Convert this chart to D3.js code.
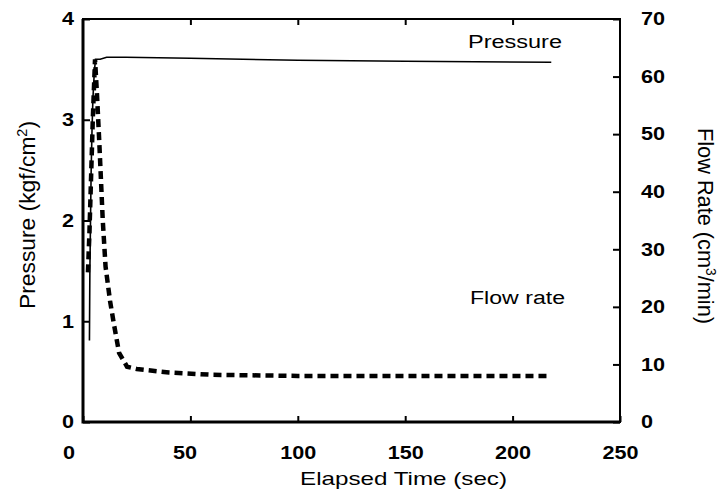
<!DOCTYPE html>
<html>
<head>
<meta charset="utf-8">
<script src="https://cdn.jsdelivr.net/npm/d3@7"></script>
<style>
  body { margin: 0; background: #fff; }
  svg text { font-family: "Liberation Sans", Arial, sans-serif; fill: #000; }
</style>
</head>
<body>
<div id="chart"></div>
<script>
// Pressure (kgf/cm2) vs elapsed time (sec)
const pressureTime = [3.0, 3.2, 3.5, 3.8, 4.2, 4.6, 5.2, 5.8, 8, 11, 20, 50, 100, 150, 218];
const pressureVal  = [0.81, 1.5, 2.0, 2.5, 2.9, 3.2, 3.45, 3.6, 3.6, 3.62, 3.62, 3.61, 3.59, 3.58, 3.57];

// Flow rate (cm3/min) vs elapsed time (sec)
const flowTime = [2.3, 3.0, 3.8, 4.6, 5.6, 6.5, 7.6, 9.2, 10.5, 12.6, 14.4, 16.8, 20.5, 25, 40, 60, 100, 150, 218];
const flowVal  = [26, 33, 43, 53, 63, 57, 48.5, 35, 27, 21, 17, 12, 9.6, 9.2, 8.6, 8.2, 8.0, 8.0, 8.0];

const xTicks = [0, 50, 100, 150, 200, 250];
const pTicks = [0, 1, 2, 3, 4];
const fTicks = [0, 10, 20, 30, 40, 50, 60, 70];

const W = 722, H = 494;
const margin = { top: 19, right: 102, bottom: 72, left: 83 };
const w = W - margin.left - margin.right;
const h = H - margin.top - margin.bottom;

const svg = d3.select('#chart').append('svg')
  .attr('width', W).attr('height', H);
const g = svg.append('g').attr('transform', `translate(${margin.left},${margin.top})`);

const x = d3.scaleLinear().domain([0, 250]).range([0, w]);
const yP = d3.scaleLinear().domain([0, 4]).range([h, 0]);
const yF = d3.scaleLinear().domain([0, 70]).range([h, 0]);

// the scanned figure is a bit stretched sideways, so widen the tick text
const styleAxis = sel => {
  sel.select('.domain').remove();
  sel.selectAll('line').attr('stroke', '#000').attr('stroke-width', 2);
  sel.selectAll('text')
    .attr('font-size', 18).attr('font-weight', 'bold')
    .attr('transform', 'scale(1.2,1)');
};

// Bottom axis (ticks pointing inward)
g.append('g')
  .attr('transform', `translate(0,${h})`)
  .call(d3.axisBottom(x).tickValues(xTicks).tickSizeInner(-6).tickSizeOuter(0).tickPadding(24))
  .call(styleAxis)
  .call(sel => sel.selectAll('.tick').filter(d => d === 0).select('text').attr('dx', -12))
  .call(sel => sel.selectAll('.tick').filter(d => d === 50).select('text').attr('dx', -5));

// Top axis ticks
g.append('g')
  .call(d3.axisTop(x).tickValues(xTicks.slice(1, -1)).tickSizeInner(-6).tickSizeOuter(0).tickFormat(''))
  .call(styleAxis);

// Left axis
g.append('g')
  .call(d3.axisLeft(yP).tickValues(pTicks).tickFormat(d3.format('d'))
    .tickSizeInner(-7).tickSizeOuter(0).tickPadding(7.5))
  .call(styleAxis);

// Right axis
g.append('g')
  .attr('transform', `translate(${w},0)`)
  .call(d3.axisRight(yF).tickValues(fTicks).tickSizeInner(-7).tickSizeOuter(0).tickPadding(17.5))
  .call(styleAxis);

// Frame: heavier on left and bottom
g.append('rect')
  .attr('width', w).attr('height', h)
  .attr('fill', 'none').attr('stroke', '#000').attr('stroke-width', 2);
g.append('path')
  .attr('d', `M0,0V${h}H${w}`)
  .attr('fill', 'none').attr('stroke', '#000').attr('stroke-width', 3);

// Flow rate (thick dashed)
const flowLine = d3.line().x((d, i) => x(flowTime[i])).y(d => yF(d));
g.append('path').datum(flowVal)
  .attr('fill', 'none').attr('stroke', '#000')
  .attr('stroke-width', 4.5).attr('stroke-dasharray', '8,5')
  .attr('d', flowLine);

// Pressure (thin solid)
const pLine = d3.line().x((d, i) => x(pressureTime[i])).y(d => yP(d));
g.append('path').datum(pressureVal)
  .attr('fill', 'none').attr('stroke', '#000')
  .attr('stroke-width', 1.6)
  .attr('d', pLine);

// Series labels
svg.append('text').attr('x', 468).attr('y', 48)
  .attr('font-size', 18).attr('textLength', 94).attr('lengthAdjust', 'spacingAndGlyphs')
  .text('Pressure');
svg.append('text').attr('x', 470).attr('y', 304)
  .attr('font-size', 18).attr('textLength', 95).attr('lengthAdjust', 'spacingAndGlyphs')
  .text('Flow rate');

// Axis titles
svg.append('text')
  .attr('x', 300).attr('y', 485)
  .attr('font-size', 19).attr('textLength', 207).attr('lengthAdjust', 'spacingAndGlyphs')
  .text('Elapsed Time (sec)');

const lt = svg.append('text')
  .attr('transform', `translate(35,215) rotate(-90) scale(1,1.2)`)
  .attr('text-anchor', 'middle').attr('font-size', 19)
  .attr('textLength', 188).attr('lengthAdjust', 'spacingAndGlyphs');
lt.append('tspan').text('Pressure (kgf/cm');
lt.append('tspan').attr('font-size', 12).attr('dy', -7).text('2');
lt.append('tspan').attr('dy', 7).text(')');

const rt = svg.append('text')
  .attr('transform', `translate(698,226) rotate(90) scale(1,1.2)`)
  .attr('text-anchor', 'middle').attr('font-size', 19)
  .attr('textLength', 196).attr('lengthAdjust', 'spacingAndGlyphs');
rt.append('tspan').text('Flow Rate (cm');
rt.append('tspan').attr('font-size', 12).attr('dy', -7).text('3');
rt.append('tspan').attr('dy', 7).text('/min)');
</script>
</body>
</html>
